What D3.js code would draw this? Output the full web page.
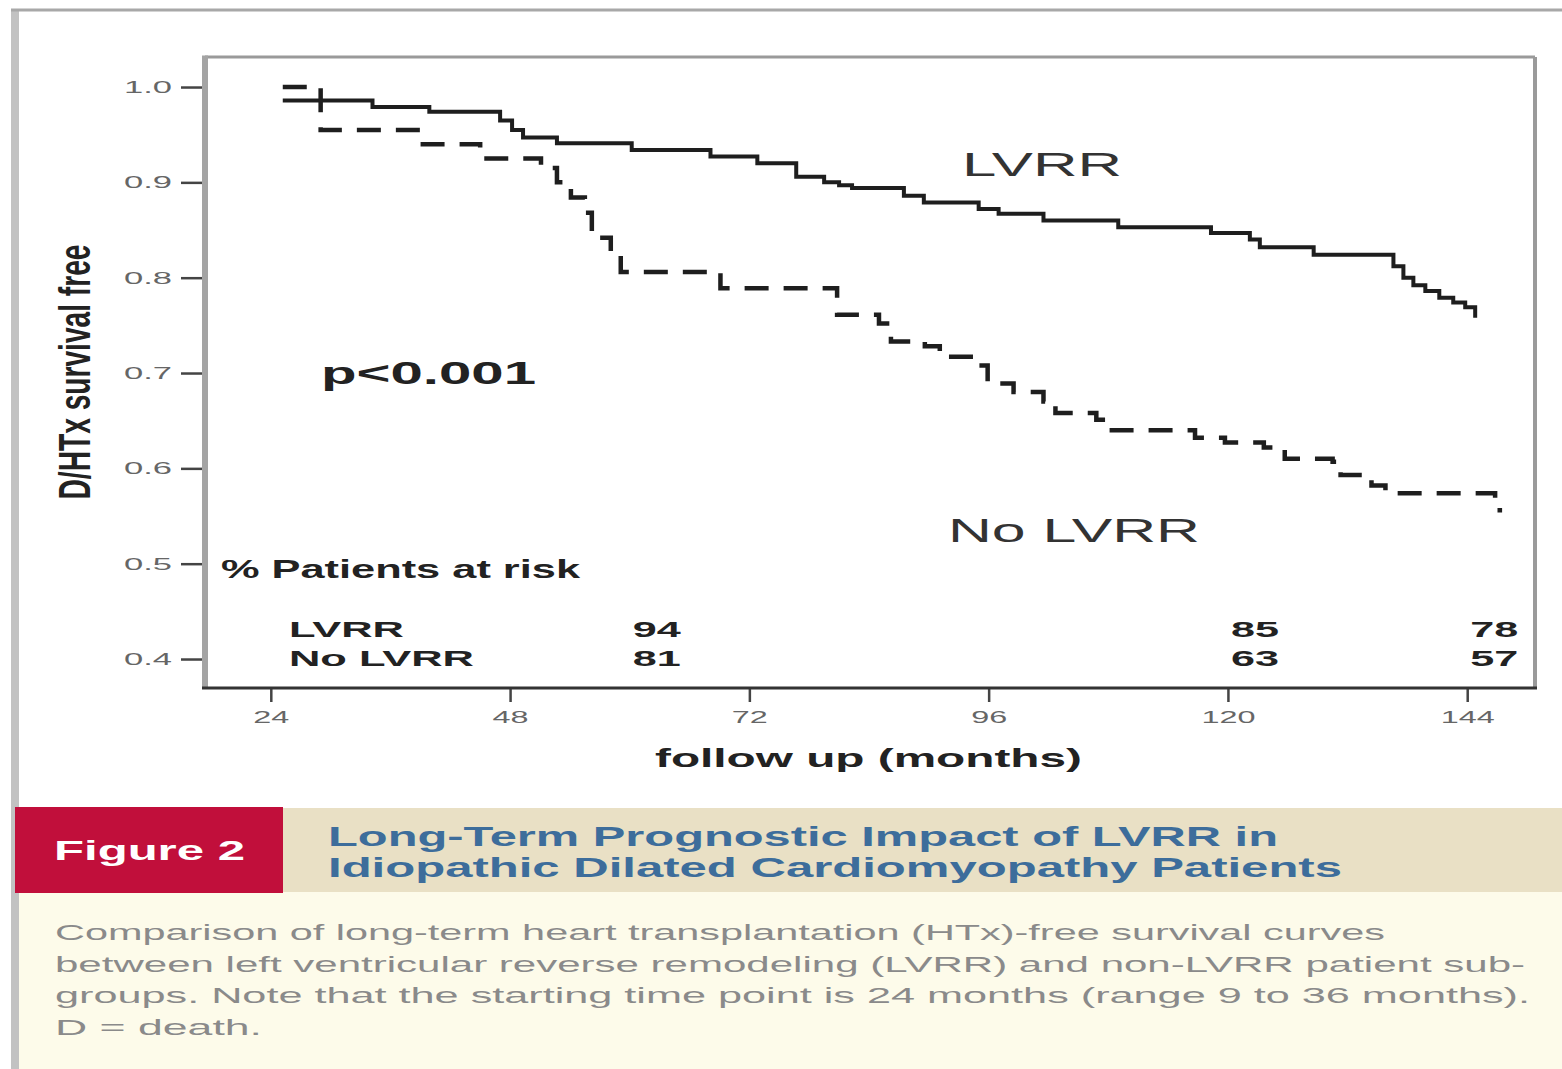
<!DOCTYPE html>
<html>
<head>
<meta charset="utf-8">
<script src="https://cdn.jsdelivr.net/npm/d3@7"></script>
<style>
  html, body { margin: 0; padding: 0; background: #fff; }
  svg { display: block; }
</style>
</head>
<body>
<svg id="fig" width="1562" height="1069"></svg>
<script>
// Kaplan-Meier step data: follow-up month and D/HTx-free survival
const lvrrMonths = [25.2, 34.2, 39.9, 47.0, 48.2, 49.3, 52.7, 60.2, 68.1, 72.8, 76.7, 79.5, 81.0, 82.3, 87.5, 89.5, 95.0, 97.0, 101.5, 109.0, 118.3, 122.2, 123.2, 128.6, 136.6, 137.6, 138.6, 139.8, 141.2, 142.6, 143.8, 144.8, 145.0];
const lvrrSurvival = [0.986, 0.979, 0.974, 0.965, 0.955, 0.947, 0.941, 0.934, 0.927, 0.920, 0.906, 0.900, 0.897, 0.894, 0.886, 0.879, 0.872, 0.867, 0.860, 0.853, 0.847, 0.840, 0.832, 0.824, 0.812, 0.800, 0.792, 0.786, 0.779, 0.774, 0.769, 0.760, 0.760];

const noLvrrMonths = [25.2, 29.0, 39.0, 45.0, 51.1, 52.7, 54.1, 55.5, 56.2, 58.1, 59.1, 69.1, 80.8, 85.0, 86.2, 89.6, 91.1, 94.6, 95.9, 98.5, 101.5, 102.7, 106.8, 107.7, 116.7, 119.7, 123.6, 125.7, 130.5, 131.3, 134.4, 135.8, 146.8, 147.5];
const noLvrrSurvival = [1.0, 0.955, 0.940, 0.925, 0.915, 0.900, 0.884, 0.868, 0.842, 0.826, 0.806, 0.789, 0.761, 0.752, 0.733, 0.728, 0.717, 0.708, 0.689, 0.680, 0.670, 0.658, 0.651, 0.640, 0.632, 0.627, 0.622, 0.610, 0.607, 0.593, 0.582, 0.574, 0.556, 0.556];

const xTicks = [24, 48, 72, 96, 120, 144];
const yTicks = [0.4, 0.5, 0.6, 0.7, 0.8, 0.9, 1.0];

// Patients at risk (%) table
const riskMonths = [60, 120, 144];
const riskLvrr = [94, 85, 78];
const riskNoLvrr = [81, 63, 57];
const groupNames = ["LVRR", "No LVRR"];

const figureTag = "Figure 2";
const titleLines = [
  "Long-Term Prognostic Impact of LVRR in",
  "Idiopathic Dilated Cardiomyopathy Patients"
];
const captionLines = [
  "Comparison of long-term heart transplantation (HTx)-free survival curves",
  "between left ventricular reverse remodeling (LVRR) and non-LVRR patient sub-",
  "groups. Note that the starting time point is 24 months (range 9 to 36 months).",
  "D = death."
];

const FONT = "'Liberation Sans', Arial, Helvetica, sans-serif";
const svg = d3.select("#fig");

// plot box
const L = 205, T = 57, R = 1535, B = 688;
const x = d3.scaleLinear().domain([17.4, 150.8]).range([L, R]);
const y = d3.scaleLinear().domain([0.3696, 1.0315]).range([B, T]);

// helper for stretched text
function label(str, px, py, opt) {
  const t = svg.append("text")
    .attr("x", px).attr("y", py)
    .attr("font-family", opt.family || FONT)
    .attr("font-size", opt.size)
    .attr("font-weight", opt.weight || "normal")
    .attr("fill", opt.fill || "#222")
    .attr("text-anchor", opt.anchor || "start")
    .text(str);
  if (opt.width) t.attr("textLength", opt.width).attr("lengthAdjust", "spacingAndGlyphs");
  if (opt.transform) t.attr("transform", opt.transform);
  return t;
}

// outer figure frame
svg.append("rect").attr("x", 11).attr("y", 9).attr("width", 8).attr("height", 1060).attr("fill", "#c2c2c2");
svg.append("line").attr("x1", 11).attr("x2", 1562).attr("y1", 10).attr("y2", 10)
  .attr("stroke", "#a8a8a8").attr("stroke-width", 3);

// axes
const gy = svg.append("g").attr("transform", `translate(${L},0)`)
  .call(d3.axisLeft(y).tickValues(yTicks).tickSize(24).tickPadding(9).tickFormat(d3.format(".1f")));
gy.select(".domain").remove();
gy.selectAll(".tick line").attr("stroke", "#444").attr("stroke-width", 2.5);
gy.selectAll(".tick text")
  .attr("font-family", FONT).attr("font-size", 17).attr("fill", "#666")
  .attr("textLength", 48).attr("lengthAdjust", "spacingAndGlyphs");

const gx = svg.append("g").attr("transform", `translate(0,${B})`)
  .call(d3.axisBottom(x).tickValues(xTicks).tickSize(14).tickPadding(9));
gx.select(".domain").remove();
gx.selectAll(".tick line").attr("stroke", "#444").attr("stroke-width", 2.5);
gx.selectAll(".tick text")
  .attr("font-family", FONT).attr("font-size", 17).attr("fill", "#666")
  .each(function(d) {
    const s = String(d);
    d3.select(this).attr("textLength", s.length * 18).attr("lengthAdjust", "spacingAndGlyphs");
  });

// plot frame
svg.append("line").attr("x1", L).attr("x2", R).attr("y1", T).attr("y2", T).attr("stroke", "#9a9a9a").attr("stroke-width", 3);
svg.append("line").attr("x1", R).attr("x2", R).attr("y1", T).attr("y2", B).attr("stroke", "#9a9a9a").attr("stroke-width", 4);
svg.append("line").attr("x1", L).attr("x2", L).attr("y1", T - 1.5).attr("y2", B).attr("stroke", "#a4a4a4").attr("stroke-width", 6);
svg.append("line").attr("x1", L - 3).attr("x2", R + 2).attr("y1", B).attr("y2", B).attr("stroke", "#333").attr("stroke-width", 3);

// survival curves
const step = d3.line()
  .x(d => x(d[0]))
  .y(d => y(d[1]))
  .curve(d3.curveStepAfter);

svg.append("path")
  .datum(lvrrMonths.map((m, i) => [m, lvrrSurvival[i]]))
  .attr("d", step)
  .attr("fill", "none").attr("stroke", "#1e1e1e").attr("stroke-width", 4);

svg.append("path")
  .datum(noLvrrMonths.map((m, i) => [m, noLvrrSurvival[i]]))
  .attr("d", step)
  .attr("fill", "none").attr("stroke", "#1e1e1e").attr("stroke-width", 4.5)
  .attr("stroke-dasharray", "24,15");

// in-plot annotations
label(groupNames[0], 962, 176, { size: 34, fill: "#333", width: 160 });
label(groupNames[1], 948, 542, { size: 34, fill: "#333", width: 252 });
label("p<0.001", 321, 384, { size: 31, weight: "bold", fill: "#222", width: 215 });

// patients at risk table
label("% Patients at risk", 221, 578, { size: 25, weight: "bold", fill: "#222", width: 359 });
label(groupNames[0], 289, 637, { size: 22, weight: "bold", fill: "#222", width: 115 });
label(groupNames[1], 289, 666, { size: 22, weight: "bold", fill: "#222", width: 185 });
riskMonths.forEach((m, i) => {
  label(String(riskLvrr[i]), x(m) + 3, 637, { size: 22, weight: "bold", fill: "#222", width: 48 });
  label(String(riskNoLvrr[i]), x(m) + 3, 666, { size: 22, weight: "bold", fill: "#222", width: 48 });
});

// axis titles
label("follow up (months)", 655, 767, { size: 26, weight: "bold", fill: "#222", width: 427 });
label("D/HTx survival free", 0, 0, {
  size: 44, weight: "bold", fill: "#222", width: 255, anchor: "middle",
  family: "'Liberation Sans Narrow', 'Liberation Sans', Arial, sans-serif",
  transform: "translate(90,372) rotate(-90)"
});

// caption block
svg.append("rect").attr("x", 283).attr("y", 808).attr("width", 1279).attr("height", 84).attr("fill", "#e9e0c5");
svg.append("rect").attr("x", 19).attr("y", 892).attr("width", 1543).attr("height", 177).attr("fill", "#fdfbea");
svg.append("rect").attr("x", 15).attr("y", 807).attr("width", 268).attr("height", 86).attr("fill", "#c10f3b");

label(figureTag, 54, 860, { size: 27, weight: "bold", fill: "#fff", width: 191 });
label(titleLines[0], 328, 846, { size: 28, weight: "bold", fill: "#3d6d9b", width: 950 });
label(titleLines[1], 328, 877, { size: 28, weight: "bold", fill: "#3d6d9b", width: 1014 });

const capWidths = [1330, 1470, 1475, 207];
captionLines.forEach((s, i) => {
  label(s, 55, 940 + i * 31.5, { size: 22, fill: "#8a8a8a", width: capWidths[i] });
});
</script>
</body>
</html>
